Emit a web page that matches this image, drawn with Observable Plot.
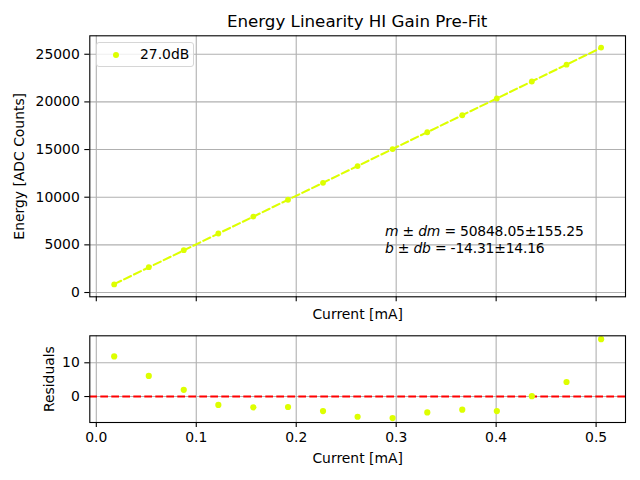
<!DOCTYPE html>
<html>
<head>
<meta charset="utf-8">
<script src="https://cdn.jsdelivr.net/npm/d3@7"></script>
<script src="https://cdn.jsdelivr.net/npm/@observablehq/plot@0.6"></script>
<style>
  html, body { margin: 0; padding: 0; background: #fff; }
  #fig { position: relative; width: 640px; height: 480px; font-family: "DejaVu Sans", sans-serif; color: #000; }
  #fig > * { position: absolute; }
  #title { left: 89.3px; width: 535.7px; top: 11px; text-align: center; font-size: 16.7px; line-height: 20px; }
  #legend { left: 96px; top: 42px; width: 98px; height: 25px; box-sizing: border-box; border: 1px solid #d6d6d6; border-radius: 3px; background: rgba(255,255,255,0.8); font-size: 13.9px; }
  #legend .dot { position: absolute; left: 16px; top: 9px; width: 6px; height: 6px; border-radius: 50%; }
  #legend .txt { position: absolute; left: 43px; top: 3px; line-height: 17px; }
  #annot { left: 385px; top: 223px; font-size: 13.9px; line-height: 16.7px; white-space: pre; letter-spacing: -0.2px; }
</style>
</head>
<body>
<div id="fig"></div>
<script>
// ---- data ----
const current = [0.0179, 0.0525, 0.0875, 0.1221, 0.1571, 0.1918, 0.2268, 0.2614, 0.2964, 0.3311, 0.3661, 0.4007, 0.4357, 0.4704, 0.5050];
const energy = [845, 2660, 4437, 6191, 7971, 9735, 11514, 13271, 15051, 16816, 18597, 20357, 22140, 23909, 25700];
const residuals = [11.9, 6.1, 2.0, -2.5, -3.2, -3.1, -4.3, -6.0, -6.4, -4.7, -3.9, -4.3, 0.1, 4.3, 17.0];
const seriesLabel = "27.0dB";
const xTicks = [0, 0.1, 0.2, 0.3, 0.4, 0.5];
const yTicksTop = [0, 5000, 10000, 15000, 20000, 25000];
const yTicksRes = [0, 10];
const fitText = ["50848.05±155.25", "-14.31±14.16"];
const color = "#ddff00";

const rows = current.map((c, i) => ({current: c, energy: energy[i], residual: residuals[i]}));

const fig = document.getElementById("fig");
const xDomain = [-0.0065, 0.5294];
const grid = {stroke: "#b0b0b0", strokeOpacity: 1, strokeWidth: 1.1};
const style = {fontFamily: "DejaVu Sans, sans-serif", fontSize: "13.9px", color: "#000", background: "transparent", overflow: "visible"};
const dash = "7.7,3.3";

const mainPlot = Plot.plot({
  width: 640, height: 320,
  marginLeft: 89.3, marginRight: 15, marginTop: 35.3, marginBottom: 23.7,
  style,
  x: {domain: xDomain},
  y: {domain: [-450, 26936]},
  marks: [
    Plot.gridX(xTicks, grid),
    Plot.gridY(yTicksTop, grid),
    Plot.linearRegressionY(rows, {x: "current", y: "energy", stroke: color, strokeWidth: 2.08, strokeDasharray: dash, ci: 0}),
    Plot.dot(rows, {x: "current", y: "energy", r: 2.9, fill: color}),
    Plot.frame({stroke: "#000", strokeWidth: 1.1}),
    Plot.axisX(xTicks, {tickSize: 5, tickFormat: () => "", strokeWidth: 1.1, label: "Current [mA]", labelAnchor: "center", labelArrow: "none", labelOffset: 22}),
    Plot.axisY(yTicksTop, {tickSize: 5, tickPadding: 5, tickFormat: d3.format("d"), strokeWidth: 1.1, label: "Energy [ADC Counts]", labelAnchor: "center", labelArrow: "none", labelOffset: 76})
  ]
});
mainPlot.style.left = "0px"; mainPlot.style.top = "0px";
fig.appendChild(mainPlot);

const resPlot = Plot.plot({
  width: 640, height: 160,
  marginLeft: 89.3, marginRight: 15, marginTop: 15.3, marginBottom: 58,
  style,
  x: {domain: xDomain},
  y: {domain: [-7.7, 18.0]},
  marks: [
    Plot.gridX(xTicks, grid),
    Plot.gridY(yTicksRes, grid),
    Plot.ruleY([0], {stroke: "red", strokeWidth: 2.08, strokeDasharray: dash}),
    Plot.dot(rows, {x: "current", y: "residual", r: 3.1, fill: color}),
    Plot.frame({stroke: "#000", strokeWidth: 1.1}),
    Plot.axisX(xTicks, {tickSize: 5, tickPadding: 5, tickFormat: d3.format(".1f"), strokeWidth: 1.1, label: "Current [mA]", labelAnchor: "center", labelArrow: "none", labelOffset: 40}),
    Plot.axisY(yTicksRes, {tickSize: 5, tickPadding: 5, tickFormat: d3.format("d"), strokeWidth: 1.1, label: "Residuals", labelAnchor: "center", labelArrow: "none", labelOffset: 46})
  ]
});
resPlot.style.left = "0px"; resPlot.style.top = "320px";
fig.appendChild(resPlot);

const title = document.createElement("div");
title.id = "title";
title.textContent = "Energy Linearity HI Gain Pre-Fit";
fig.appendChild(title);

const legend = document.createElement("div");
legend.id = "legend";
legend.innerHTML = `<span class="dot" style="background:${color}"></span><span class="txt">${seriesLabel}</span>`;
fig.appendChild(legend);

const annot = document.createElement("div");
annot.id = "annot";
annot.innerHTML = `<i>m</i> ± <i>dm</i> = ${fitText[0]}\n<i>b</i> ± <i>db</i> = ${fitText[1]}`;
fig.appendChild(annot);
</script>
</body>
</html>
